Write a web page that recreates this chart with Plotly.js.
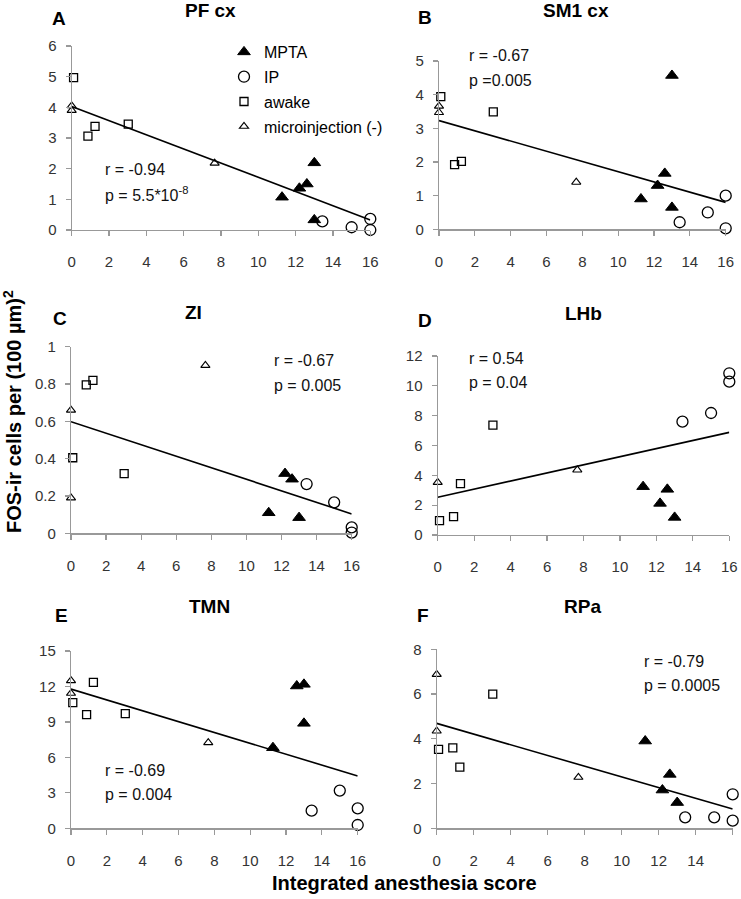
<!DOCTYPE html>
<html>
<head>
<meta charset="utf-8">
<script src="https://cdn.plot.ly/plotly-3.0.1.min.js"></script>
<style>html,body{margin:0;padding:0;background:#fff;}#chart{width:741px;height:899px;}</style>
</head>
<body>
<div id="chart"></div>
<script>
// ---- data ----
const groupNames = ["MPTA", "IP", "awake", "microinjection (-)"];
const awakeX = [0.1, 0.87, 1.25, 3.03];
const microX = [0, 0, 7.66];
const mptaX = [11.27, 12.2, 12.6, 13.0, 13.0];
const ipX = [13.43, 15.0, 16, 16];
const lineX = [0, 16];

const panelNames = ["PF cx", "SM1 cx", "ZI", "LHb", "TMN", "RPa"];
const panelLetters = ["A", "B", "C", "D", "E", "F"];
const rValues = ["r = -0.94", "r = -0.67", "r = -0.67", "r = 0.54", "r = -0.69", "r = -0.79"];
const pValues = ["p = 5.5*10<sup>-8</sup>", "p =0.005", "p = 0.005", "p = 0.04", "p = 0.004", "p = 0.0005"];

const pfAwake = [4.97, 3.06, 3.38, 3.45];
const pfMicro = [4.05, 3.9, 2.18];
const pfMpta = [1.07, 1.36, 1.5, 2.19, 0.33];
const pfIp = [0.28, 0.09, 0.36, 0.0];
const pfLine = [4.03, 0.33];

const smAwake = [3.94, 1.92, 2.02, 3.49];
const smMicro = [3.66, 3.47, 1.40];
const smMpta = [0.90, 1.30, 1.66, 0.65, 4.57];
const smIp = [0.21, 0.50, 1.0, 0.03];
const smLine = [3.23, 0.80];

const ziAwake = [0.405, 0.795, 0.82, 0.32];
const ziMicro = [0.66, 0.19, 0.90];
const ziMpta = [0.11, 0.32, 0.29, 0.084, null];
const ziIp = [0.264, 0.166, 0.032, 0.004];
const ziLine = [0.598, 0.104];

const lhbAwake = [0.96, 1.23, 3.44, 7.37];
const lhbMicro = [3.53, null, 4.36];
const lhbMpta = [3.24, 2.12, 3.06, 1.18, null];
const lhbIp = [7.6, 8.18, 10.84, 10.28];
const lhbLine = [2.53, 6.88];

const tmnAwake = [10.63, 9.61, 12.35, 9.7];
const tmnMicro = [12.49, 11.42, 7.25];
const tmnMpta = [6.82, null, 12.04, 12.18, 8.88];
const tmnIp = [1.49, 3.19, 1.69, 0.28];
const tmnLine = [11.78, 4.43];

const rpaAwake = [3.53, 3.59, 2.73, 6.0];
const rpaMicro = [6.88, 4.35, 2.28];
const rpaMpta = [3.9, 1.71, 2.41, 1.15, null];
const rpaIp = [0.49, 0.49, 1.52, 0.34];
const rpaLine = [4.69, 0.86];

const yTickStep = [1, 1, 0.2, 2, 3, 2];
const yMax = [6, 5, 1, 12, 15, 8];

// ---- layout geometry (pixels) ----
const W = 741, H = 899;
const boxes = [
  {x0: 71.7, x1: 370.3, y0: 46, y1: 230},
  {x0: 439, x1: 725.7, y0: 61, y1: 229.3},
  {x0: 71, x1: 351.7, y0: 346.7, y1: 533.3},
  {x0: 437.7, x1: 729.3, y0: 356, y1: 535},
  {x0: 71, x1: 357.7, y0: 651, y1: 828.3},
  {x0: 436.7, x1: 732.7, y0: 649.3, y1: 828.3}
];
const letterPos = [[59.5,18.3],[424.5,17.5],[60,318.5],[424.5,320],[61.5,615],[422.5,615]];
const titlePos = [[210,10.5],[576,11],[193,312],[583,313],[209,606],[582,606]];
const rPos = [[103,170],[466.7,56],[272,361],[466.7,358.5],[103,770],[641.7,661.5]];
const pPos = [[103,194],[466.7,80],[272,385],[466.7,383],[103,794],[641.7,685]];

const panelData = [
  [pfMpta, pfIp, pfAwake, pfMicro, pfLine],
  [smMpta, smIp, smAwake, smMicro, smLine],
  [ziMpta, ziIp, ziAwake, ziMicro, ziLine],
  [lhbMpta, lhbIp, lhbAwake, lhbMicro, lhbLine],
  [tmnMpta, tmnIp, tmnAwake, tmnMicro, tmnLine],
  [rpaMpta, rpaIp, rpaAwake, rpaMicro, rpaLine]
];
const groupX = [mptaX, ipX, awakeX, microX];
const markers = [
  {symbol: "triangle-up", size: 11, color: "#000", line: {color: "#000", width: 1}},
  {symbol: "circle-open", size: 11, color: "#000", line: {color: "#000", width: 1.3}},
  {symbol: "square-open", size: 8, color: "#000", line: {color: "#000", width: 1.3}},
  {symbol: "triangle-up-open", size: 8, color: "#000", line: {color: "#000", width: 1.1}}
];

const FONT = "Arial, 'Liberation Sans', Helvetica, sans-serif";
const traces = [];
const layout = {
  width: W, height: H,
  margin: {l: 0, r: 0, t: 0, b: 0},
  paper_bgcolor: "#fff", plot_bgcolor: "#fff",
  font: {family: FONT, color: "#000"},
  showlegend: true,
  legend: {
    x: 224 / W, y: 1 - 35 / H, xanchor: "left", yanchor: "top",
    font: {family: FONT, size: 16, color: "#000"},
    bgcolor: "rgba(0,0,0,0)", tracegroupgap: 1, itemwidth: 30
  },
  annotations: [],
  shapes: []
};

for (let i = 0; i < 6; i++) {
  const ax = i === 0 ? "" : String(i + 1);
  const xa = "x" + ax, ya = "y" + ax;
  const b = boxes[i];
  const d = panelData[i];
  for (let g = 0; g < 4; g++) {
    traces.push({
      type: "scatter", mode: "markers",
      x: groupX[g], y: d[g],
      xaxis: xa, yaxis: ya,
      name: groupNames[g],
      legendgroup: groupNames[g],
      showlegend: i === 0,
      cliponaxis: false,
      marker: markers[g],
      hoverinfo: "skip"
    });
  }
  traces.push({
    type: "scatter", mode: "lines",
    x: lineX, y: d[4], xaxis: xa, yaxis: ya,
    line: {color: "#000", width: 1.6},
    showlegend: false, cliponaxis: false, hoverinfo: "skip"
  });
  const axCommon = {
    showgrid: false, zeroline: false, showline: true,
    linecolor: "#999", linewidth: 1.2,
    ticks: "outside", ticklen: 5, tickwidth: 1.2, tickcolor: "#999",
    tickfont: {family: FONT, size: 15, color: "#333"},
    fixedrange: true
  };
  layout["xaxis" + ax] = Object.assign({}, axCommon, {
    domain: [b.x0 / W, b.x1 / W], range: [0, 16],
    tickmode: "linear", tick0: 0, dtick: 2,
    anchor: ya, ticklabelstandoff: 13
  });
  layout["yaxis" + ax] = Object.assign({}, axCommon, {
    domain: [1 - b.y1 / H, 1 - b.y0 / H], range: [0, yMax[i]],
    tickmode: "linear", tick0: 0, dtick: yTickStep[i],
    anchor: xa, ticklabelstandoff: 6
  });
  layout.annotations.push({
    xref: "paper", yref: "paper", x: letterPos[i][0] / W, y: 1 - letterPos[i][1] / H,
    xanchor: "center", yanchor: "middle", showarrow: false,
    text: "<b>" + panelLetters[i] + "</b>", font: {family: FONT, size: 19, color: "#000"}
  });
  layout.annotations.push({
    xref: "paper", yref: "paper", x: titlePos[i][0] / W, y: 1 - titlePos[i][1] / H,
    xanchor: "center", yanchor: "middle", showarrow: false,
    text: "<b>" + panelNames[i] + "</b>", font: {family: FONT, size: 19, color: "#000"}
  });
  layout.annotations.push({
    xref: "paper", yref: "paper", x: rPos[i][0] / W, y: 1 - rPos[i][1] / H,
    xanchor: "left", yanchor: "middle", showarrow: false,
    text: rValues[i], font: {family: FONT, size: 16, color: "#111"}
  });
  layout.annotations.push({
    xref: "paper", yref: "paper", x: pPos[i][0] / W, y: 1 - pPos[i][1] / H,
    xanchor: "left", yanchor: "middle", showarrow: false,
    text: pValues[i], font: {family: FONT, size: 16, color: "#111"}
  });
}

layout.annotations.push({
  xref: "paper", yref: "paper", x: 12 / W, y: 1 - 412 / H,
  xanchor: "center", yanchor: "middle", showarrow: false, textangle: -90,
  text: "<b>FOS-ir cells per (100 µm)<sup>2</sup></b>",
  font: {family: FONT, size: 20, color: "#000"}
});
layout.annotations.push({
  xref: "paper", yref: "paper", x: 404 / W, y: 1 - 883 / H,
  xanchor: "center", yanchor: "middle", showarrow: false,
  text: "<b>Integrated anesthesia score</b>",
  font: {family: FONT, size: 20, color: "#000"}
});

Plotly.newPlot("chart", traces, layout, {displayModeBar: false, staticPlot: true});
</script>
</body>
</html>
